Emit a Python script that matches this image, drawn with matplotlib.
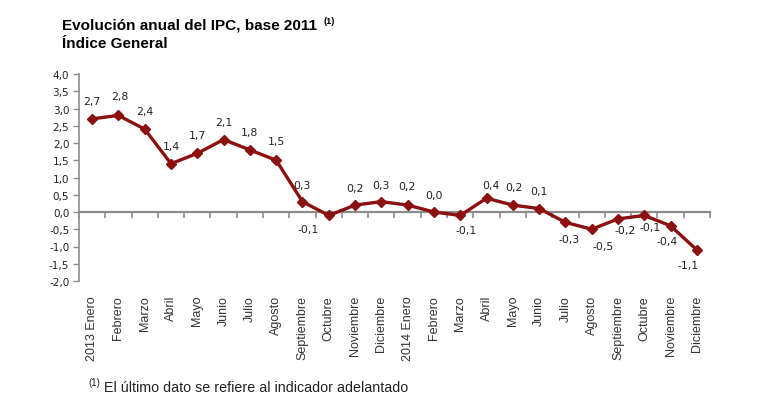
import matplotlib
matplotlib.use("Agg")
import matplotlib.pyplot as plt

# ===== データ =====
MONTHS = ["2013 Enero", "Febrero", "Marzo", "Abril", "Mayo", "Junio", "Julio",
          "Agosto", "Septiembre", "Octubre", "Noviembre", "Diciembre",
          "2014 Enero", "Febrero", "Marzo", "Abril", "Mayo", "Junio", "Julio",
          "Agosto", "Septiembre", "Octubre", "Noviembre", "Diciembre"]
IPC = [2.7, 2.8, 2.4, 1.4, 1.7, 2.1, 1.8, 1.5, 0.3, -0.1, 0.2, 0.3,
       0.2, 0.0, -0.1, 0.4, 0.2, 0.1, -0.3, -0.5, -0.2, -0.1, -0.4, -1.1]
Y_TICKS = [-2.0, -1.5, -1.0, -0.5, 0.0, 0.5, 1.0, 1.5, 2.0, 2.5, 3.0, 3.5, 4.0]

# ラベル位置の微調整 (pixels)
LABEL_DX = [0, 1, 0, 0, 0, 0, 0, 0, -1, -21, 0, 0,
            -1, 0, 6, 4, 1, 0, 4, 11, 7, 6, -3, -9]
LABEL_DY = [18, 19, 18, 18, 18, 18, 18, 19, 17, -14, 17, 17,
            19, 17, -15, 13, 18, 18, -17, -17, -11, -12, -15, -15]

LINE_COLOR = "#8b1010"
AXIS_COLOR = "#8c8c8c"
TEXT_COLOR = "#222222"


def fmt(v):
    return f"{v:.1f}".replace(".", ",")


def main_process():
    fig = plt.figure(figsize=(7.7, 4.06), dpi=100)
    ax = fig.add_axes([79 / 770, 1 - 282 / 406, 631 / 770, 207 / 406])

    x = list(range(len(IPC)))
    ax.plot(x, IPC, color=LINE_COLOR, lw=2.4, marker="D", ms=5.5, zorder=3)

    for i, v in enumerate(IPC):
        ax.annotate(fmt(v), (i, v), xytext=(LABEL_DX[i], LABEL_DY[i]),
                    textcoords="offset pixels", ha="center", va="center",
                    fontsize=7.8, family="DejaVu Sans", color=TEXT_COLOR)

    ax.set_xlim(-0.5, len(IPC) - 0.5)
    ax.set_ylim(-2.0, 4.0)
    ax.set_yticks(Y_TICKS)
    ax.set_yticklabels([fmt(v) for v in Y_TICKS], family="DejaVu Sans",
                       fontsize=7.5, color=TEXT_COLOR)
    ax.tick_params(axis="y", direction="out", length=4, width=1, color=AXIS_COLOR, pad=3)

    # 下側の目盛りラベル
    ax.set_xticks(x)
    ax.set_xticklabels(MONTHS, rotation=90, family="Liberation Sans",
                       fontsize=9, color="#333333")
    ax.tick_params(axis="x", length=0, pad=10)

    for side in ["top", "right", "bottom"]:
        ax.spines[side].set_visible(False)
    ax.spines["left"].set_color(AXIS_COLOR)
    ax.spines["left"].set_linewidth(1.2)

    # 0 の軸線
    sec = ax.secondary_xaxis(2 / 6)
    sec.set_xticks([i - 0.5 for i in range(len(IPC) + 1)])
    sec.set_xticklabels([])
    sec.tick_params(axis="x", direction="out", length=4, width=1.2, color=AXIS_COLOR)
    sec.spines["bottom"].set_color(AXIS_COLOR)
    sec.spines["bottom"].set_linewidth(1.6)

    # タイトル
    fig.text(62 / 770, 1 - 29 / 406, "Evolución anual del IPC, base 2011",
             fontsize=11, fontweight="bold", family="Liberation Sans", va="baseline")
    fig.text(324 / 770, 1 - 24 / 406, "(1)", fontsize=6.5, fontweight="bold",
             family="Liberation Sans", va="baseline")
    fig.text(62 / 770, 1 - 48 / 406, "Índice General",
             fontsize=11, fontweight="bold", family="Liberation Sans", va="baseline")

    # 注記
    fig.text(88 / 770, 1 - 386 / 406, "(1)", fontsize=7, family="Liberation Sans",
             va="baseline", color=TEXT_COLOR)
    fig.text(104 / 770, 1 - 392 / 406, "El último dato se refiere al indicador adelantado",
             fontsize=10.3, family="Liberation Sans", va="baseline", color=TEXT_COLOR)

    fig.savefig("out.png", dpi=100, facecolor="white")
    plt.close(fig)


if __name__ == "__main__":
    main_process()
